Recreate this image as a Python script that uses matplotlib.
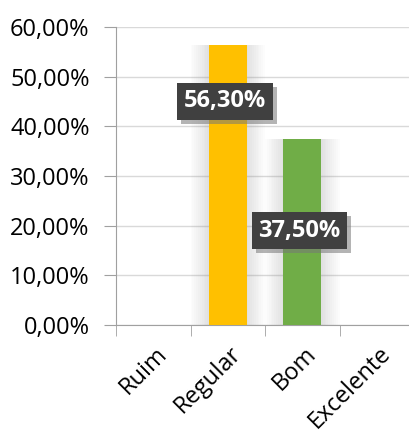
import matplotlib
matplotlib.use("Agg")
import matplotlib.pyplot as plt
import matplotlib.patheffects as pe
import matplotlib.transforms as mtransforms
import numpy as np

categories = ["Ruim", "Regular", "Bom", "Excelente"]
values = [0.0, 0.563, 0.375, 0.0]
labels = ["", "56,30%", "37,50%", ""]
label_pos = [None, 0.45, 0.19, None]
colors = ["#FFC000", "#FFC000", "#70AD47", "#70AD47"]
yticks = [0, 0.1, 0.2, 0.3, 0.4, 0.5, 0.6]
ytick_labels = ["0,00%", "10,00%", "20,00%", "30,00%", "40,00%", "50,00%", "60,00%"]

plt.rcParams['font.family'] = ['Open Sans', 'DejaVu Sans']

W, H = 409, 430
fig = plt.figure(figsize=(W/100, H/100), dpi=100)
ax = fig.add_axes([116/W, (H-325)/H, 298/W, 298/H])

x = np.arange(len(categories))
# soft shadow around bars
for i, v in enumerate(values):
    if v > 0:
        for k in np.linspace(1.0, 0.55, 10):
            ax.bar(x[i], v, width=k, color="#707070", alpha=0.018, zorder=1, linewidth=0)
ax.bar(x, values, width=0.51, color=colors, zorder=3)

for i, (lab, yp) in enumerate(zip(labels, label_pos)):
    if lab:
        t = ax.text(x[i] - 0.04, yp, lab, ha="center", va="center", color="white",
                    fontsize=17, fontweight="bold", zorder=5,
                    bbox=dict(boxstyle="square,pad=0.28", fc="#404040", ec="none"))
        t.get_bbox_patch().set_path_effects([
            pe.SimplePatchShadow(offset=(3, -3), shadow_rgbFace="#777777", alpha=0.55),
            pe.Normal()])

ax.set_xlim(-0.5, 3.5)
ax.set_ylim(0, 0.6)
ax.set_yticks(yticks)
ax.set_yticklabels(ytick_labels, fontsize=17)
ax.yaxis.grid(True, color="#D9D9D9", linewidth=1, zorder=0)
ax.set_axisbelow(True)

ax.set_xticks(x)
ax.set_xticklabels(categories, rotation=45, fontsize=17, ha="right", rotation_mode="anchor")
ax.tick_params(axis="x", length=0, pad=12)
offset = mtransforms.ScaledTranslation(2/100, 0, fig.dpi_scale_trans)
for lbl in ax.get_xticklabels():
    lbl.set_transform(lbl.get_transform() + offset)
ax.set_xticks(np.arange(-0.5, 3.6, 1), minor=True)
ax.tick_params(axis="x", which="minor", length=8, color="#A0A0A0", direction="out")
ax.tick_params(axis="y", length=9, color="#A0A0A0", pad=10)

for s in ["top", "right"]:
    ax.spines[s].set_visible(False)
for s in ["left", "bottom"]:
    ax.spines[s].set_color("#A0A0A0")

fig.savefig("out.png", dpi=100)
